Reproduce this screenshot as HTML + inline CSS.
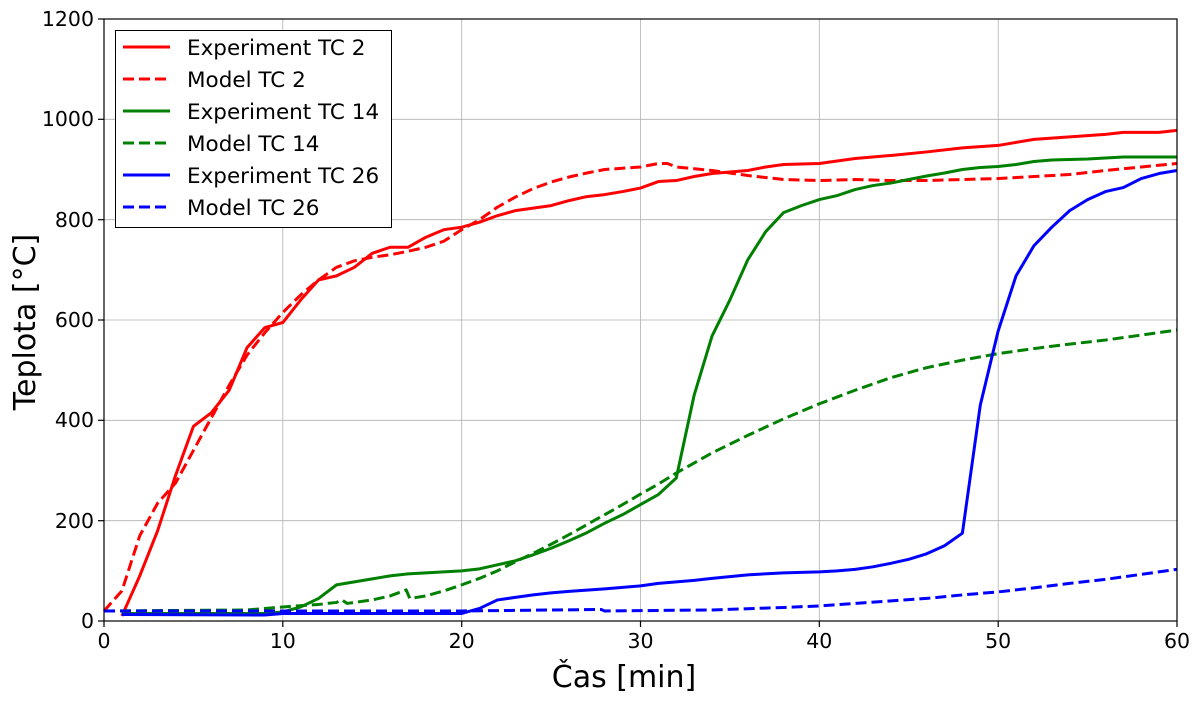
<!DOCTYPE html>
<html><head><meta charset="utf-8"><style>
html,body{margin:0;padding:0;background:#fff}
svg{display:block;font-family:"DejaVu Sans","Liberation Sans",sans-serif}
</style></head><body>
<svg width="1200" height="703" viewBox="0 0 1200 703">
<rect x="0" y="0" width="1200" height="703" fill="#fff"/>
<g stroke="#b0b0b0" stroke-width="0.8">
<line x1="282.8" y1="19" x2="282.8" y2="621"/>
<line x1="461.7" y1="19" x2="461.7" y2="621"/>
<line x1="640.5" y1="19" x2="640.5" y2="621"/>
<line x1="819.3" y1="19" x2="819.3" y2="621"/>
<line x1="998.2" y1="19" x2="998.2" y2="621"/>
<line x1="104" y1="520.7" x2="1177" y2="520.7"/>
<line x1="104" y1="420.3" x2="1177" y2="420.3"/>
<line x1="104" y1="320" x2="1177" y2="320"/>
<line x1="104" y1="219.7" x2="1177" y2="219.7"/>
<line x1="104" y1="119.3" x2="1177" y2="119.3"/>
</g>
<g transform="translate(104,621) scale(17.883,-0.50167)" fill="none" stroke-width="3" stroke-linejoin="round">
<polyline vector-effect="non-scaling-stroke" stroke="#ff0000" stroke-width="3" points="1,10 2,90 3,180 4,290 5,388 6,415 7,460 8,545 9,585 10,595 11,640 12,680 13,688 14,705 15,733 16,745 17,745 18,765 19,780 20,785 21,795 22,808 23,818 24,823 25,828 26,838 27,846 28,850 29,856 30,863 31,876 32,878 33,886 34,892 35,895 36,898 37,905 38,910 40,912 42,922 44,928 46,935 48,943 50,948 52,960 54,965 56,970 57,974 59,974 60,978"/>
<polyline vector-effect="non-scaling-stroke" stroke="#ff0000" stroke-width="3" stroke-dasharray="11,5" points="0,20 1,60 2,170 3,235 4,275 5,340 6,405 7,470 8,530 9,575 10,615 11,650 12,680 13,705 14,718 15,725 16,730 17,737 18,745 19,757 20,780 21,800 22,825 23,845 24,862 25,875 26,885 27,893 28,900 30,905 31,912 31.5,912 32,905 34,898 36,888 38,880 40,878 42,880 44,878 46,878 48,880 50,882 52,886 54,890 56,898 58,905 60,912"/>
<polyline vector-effect="non-scaling-stroke" stroke="#008000" stroke-width="3" points="1,15 9,15 10,18 11,28 12,45 13,72 14,78 15,84 16,90 17,94 19,98 20,100 21,104 22,112 23,120 24,132 25,145 26,160 27,176 28,195 29,212 30,232 31,252 32,285 33,450 34,568 35,640 36,720 37,776 38,814 39,828 40,840 41,848 42,860 43,868 44,873 45,880 46,887 47,893 48,900 49,904 50,906 51,910 52,916 53,919 55,921 57,925 60,925"/>
<polyline vector-effect="non-scaling-stroke" stroke="#008000" stroke-width="3" stroke-dasharray="11,5" points="0,20 8,22 9,25 10,28 12,33 13,37 13.3,42 13.6,35 14,37 15,42 16,50 16.9,62 17.1,45 18,50 19,60 20,72 21,85 22,100 23,118 24,135 25,153 26,172 27,192 28,212 29,232 30,253 31,273 32,295 34,335 36,370 38,403 40,433 42,460 44,485 46,505 48,520 50,533 52,543 54,552 56,560 58,570 60,580"/>
<polyline vector-effect="non-scaling-stroke" stroke="#0000ff" stroke-width="3" points="1,13 9,12 10,15 20,15 21,25 22,42 23,47 24,52 25,56 26,59 28,64 30,70 31,75 33,81 34,85 36,92 38,96 40,98 41,100 42,103 43,108 44,115 45,123 46,134 47,150 48,175 49,430 50,578 51,688 52,748 53,785 54,818 55,840 56,856 57,864 58,882 59,892 60,898"/>
<polyline vector-effect="non-scaling-stroke" stroke="#0000ff" stroke-width="3" stroke-dasharray="11,5" points="0,20 20,20 27.8,23 28,20 34,22 38,27 40,30 42,35 44,40 46,45 48,52 50,58 52,66 54,75 56,83 58,93 60,103"/>
</g>
<rect x="104" y="19" width="1073" height="602" fill="none" stroke="#000" stroke-width="1.2"/>
<g stroke="#000" stroke-width="1.2">
<line x1="104" y1="621" x2="104" y2="627"/><line x1="282.8" y1="621" x2="282.8" y2="627"/><line x1="461.7" y1="621" x2="461.7" y2="627"/><line x1="640.5" y1="621" x2="640.5" y2="627"/><line x1="819.3" y1="621" x2="819.3" y2="627"/><line x1="998.2" y1="621" x2="998.2" y2="627"/><line x1="1177" y1="621" x2="1177" y2="627"/>
<line x1="98" y1="621" x2="104" y2="621"/><line x1="98" y1="520.7" x2="104" y2="520.7"/><line x1="98" y1="420.3" x2="104" y2="420.3"/><line x1="98" y1="320" x2="104" y2="320"/><line x1="98" y1="219.7" x2="104" y2="219.7"/><line x1="98" y1="119.3" x2="104" y2="119.3"/><line x1="98" y1="19" x2="104" y2="19"/>
</g>
<g font-size="20.5" fill="#000" text-anchor="middle">
<text x="104" y="648">0</text><text x="282.8" y="648">10</text><text x="461.7" y="648">20</text><text x="640.5" y="648">30</text><text x="819.3" y="648">40</text><text x="998.2" y="648">50</text><text x="1177" y="648">60</text>
</g>
<g font-size="20.5" fill="#000" text-anchor="end">
<text x="94" y="628">0</text><text x="94" y="528">200</text><text x="94" y="427">400</text><text x="94" y="327">600</text><text x="94" y="227">800</text><text x="94" y="126">1000</text><text x="94" y="26">1200</text>
</g>
<text x="624" y="687" font-size="30" text-anchor="middle">Čas [min]</text>
<text transform="translate(35,322) rotate(-90)" font-size="30" text-anchor="middle">Teplota [°C]</text>
<rect x="115.5" y="30.5" width="276" height="197" fill="#fff" stroke="#000" stroke-width="1"/>
<g stroke-width="3">
<line x1="123" y1="47" x2="170" y2="47" stroke="#ff0000"/>
<line x1="123" y1="79" x2="170" y2="79" stroke="#ff0000" stroke-dasharray="11,5"/>
<line x1="123" y1="111" x2="170" y2="111" stroke="#008000"/>
<line x1="123" y1="143" x2="170" y2="143" stroke="#008000" stroke-dasharray="11,5"/>
<line x1="123" y1="175" x2="170" y2="175" stroke="#0000ff"/>
<line x1="123" y1="207" x2="170" y2="207" stroke="#0000ff" stroke-dasharray="11,5"/>
</g>
<g font-size="21.5" fill="#000">
<text x="187" y="55">Experiment TC 2</text>
<text x="187" y="87">Model TC 2</text>
<text x="187" y="119">Experiment TC 14</text>
<text x="187" y="151">Model TC 14</text>
<text x="187" y="183">Experiment TC 26</text>
<text x="187" y="215">Model TC 26</text>
</g>
</svg>
</body></html>
